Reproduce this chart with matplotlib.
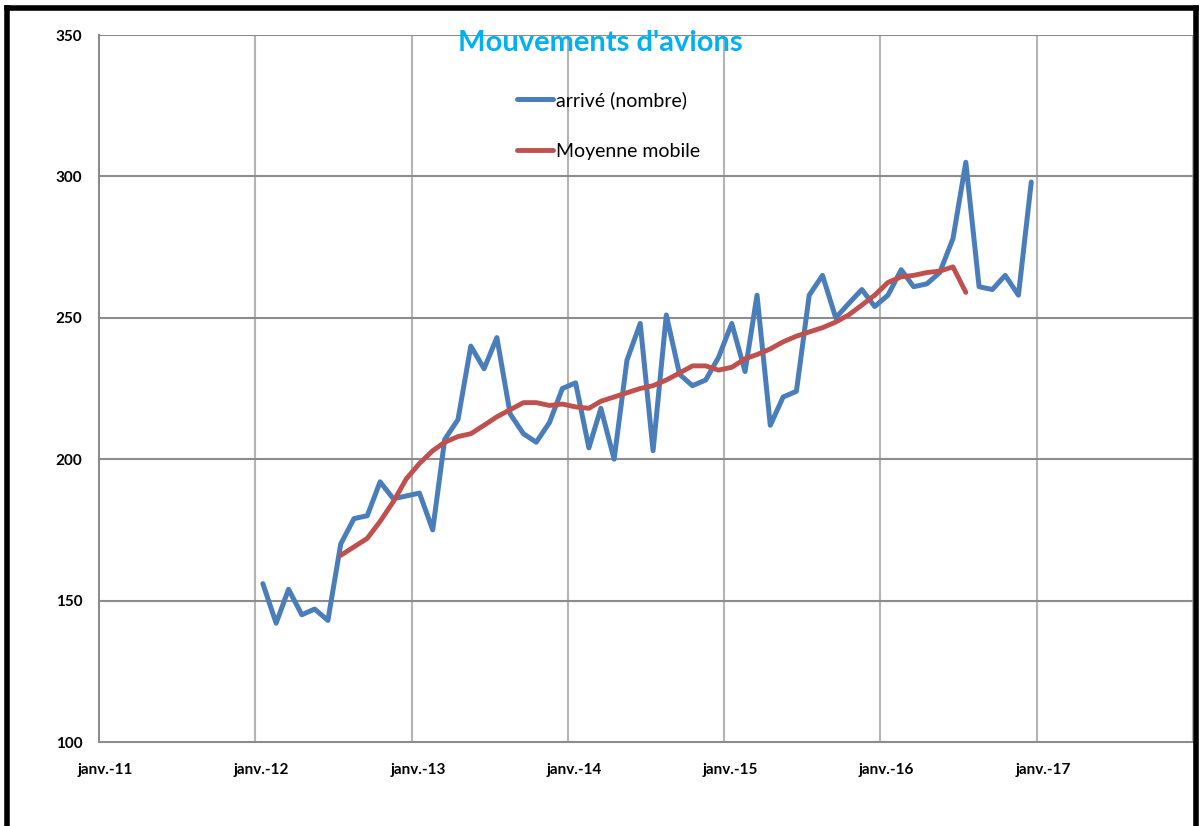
import matplotlib.pyplot as plt
from matplotlib.lines import Line2D
from matplotlib.transforms import ScaledTranslation
import pandas as pd

# monthly arrivals, janv.-12 .. déc.-16
arrivals = [156, 142, 154, 145, 147, 143, 170, 179, 180, 192, 186, 187,
            188, 175, 207, 214, 240, 232, 243, 216, 209, 206, 213, 225,
            227, 204, 218, 200, 235, 248, 203, 251, 230, 226, 228, 236,
            248, 231, 258, 212, 222, 224, 258, 265, 250, 255, 260, 254,
            258, 267, 261, 262, 266, 278, 305, 261, 260, 265, 258, 298]

# moving average, juil.-12 .. juil.-16
moving_avg = [166, 169, 172, 178, 185, 193, 198.5, 203, 206, 208, 209, 212,
              215, 217.5, 220, 220, 219, 219.5, 218.5, 218, 220.5, 222, 223.5, 225,
              226, 228, 230.5, 233, 233, 231.5, 232.5, 235.5, 237, 239, 241.5, 243.5,
              245, 246.5, 248.5, 251, 254.5, 258, 262.5, 264.5, 265, 266, 266.5, 268,
              259]

years = [2011, 2012, 2013, 2014, 2015, 2016, 2017]
year_labels = ["janv.-11", "janv.-12", "janv.-13", "janv.-14", "janv.-15", "janv.-16", "janv.-17"]
y_ticks = [100, 150, 200, 250, 300, 350]

months = pd.date_range("2012-01-01", periods=len(arrivals), freq="MS") + pd.Timedelta(days=18)
ma_months = months[6:6 + len(moving_avg)]

fig = plt.figure(figsize=(12.03, 8.26), dpi=100)
ax = fig.add_axes([99 / 1203, 1 - 742 / 826, (1193 - 99) / 1203, (742 - 35) / 826])

ax.plot(months, arrivals, color="#4a7ebb", lw=3.6, solid_joinstyle="round",
        solid_capstyle="round", label="arrivé (nombre)", zorder=3)
ax.plot(ma_months, moving_avg, color="#c0504d", lw=3.5, solid_joinstyle="round",
        solid_capstyle="round", label="Moyenne mobile", zorder=4)

ax.set_xlim(pd.Timestamp("2011-01-01"), pd.Timestamp("2018-01-01"))
ax.set_ylim(100, 350)
tick_dates = [pd.Timestamp(f"{y}-01-01") for y in years]
ax.set_xticks(tick_dates)
ax.set_xticklabels(year_labels)
ax.set_yticks(y_ticks)

for x in tick_dates[1:] + [pd.Timestamp("2018-01-01")]:
    ax.axvline(x, color="#b4b4b4", lw=1.5, zorder=1)
for y in y_ticks[1:]:
    ax.axhline(y, color="#8c8c8c", lw=1.5, zorder=1)

for s in ["top", "right"]:
    ax.spines[s].set_visible(False)
for s in ["left", "bottom"]:
    ax.spines[s].set_color("#8c8c8c")
    ax.spines[s].set_linewidth(1.5)

ax.tick_params(axis="both", length=0, labelsize=11)
ax.tick_params(axis="x", pad=15)
ax.tick_params(axis="y", pad=12)
for lbl in ax.get_xticklabels() + ax.get_yticklabels():
    lbl.set_fontweight("bold")
    lbl.set_fontfamily("Lato")
for lbl in ax.get_xticklabels():
    lbl.set_transform(lbl.get_transform() + ScaledTranslation(6 / 100, 0, fig.dpi_scale_trans))

fig.text(600 / 1203, 1 - 43 / 826, "Mouvements d'avions", ha="center", va="center",
         fontsize=21, fontweight="bold", color="#00b0f0", family="Lato")

ax.legend(loc="upper left", bbox_to_anchor=(517 / 1203, 1 - 91 / 826), bbox_transform=fig.transFigure,
          frameon=False, handlelength=1.85, handletextpad=0.15, labelspacing=1.75,
          prop={"family": "Lato", "size": 14}, borderpad=0, borderaxespad=0)

# black border of the chart area
for xs, ys in [([7 / 1203, 7 / 1203], [0, 1 - 8 / 826]),
               ([7 / 1203, 1196 / 1203], [1 - 8 / 826, 1 - 8 / 826]),
               ([1196 / 1203, 1196 / 1203], [0, 1 - 8 / 826])]:
    fig.add_artist(Line2D(xs, ys, color="black", lw=4, transform=fig.transFigure,
                          solid_capstyle="projecting"))

fig.savefig("out.png", dpi=100)
